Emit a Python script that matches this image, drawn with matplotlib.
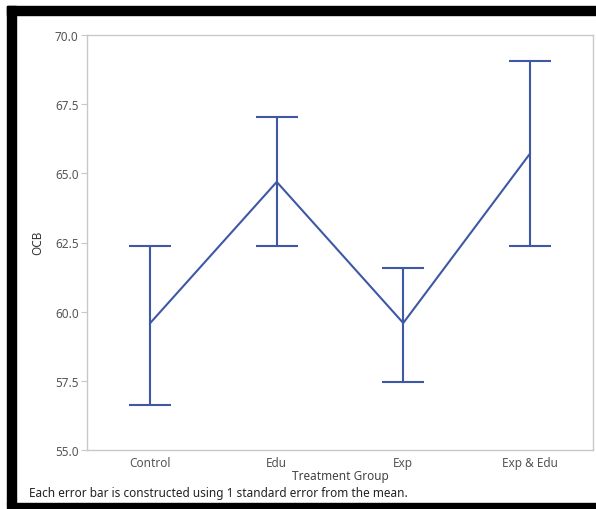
import matplotlib.pyplot as plt
from matplotlib.patches import Rectangle
import numpy as np

# group means with the ends of their +/- 1 SE bars
groups = ["Control", "Edu", "Exp", "Exp & Edu"]
means = [59.59, 64.69, 59.59, 65.70]
lower = [56.63, 62.37, 57.46, 62.37]
upper = [62.37, 67.04, 61.58, 69.06]

plt.rcParams["font.family"] = ["Noto Sans", "DejaVu Sans"]

W, H = 596, 510
fig = plt.figure(figsize=(W / 100, H / 100), dpi=100)

# black frame around the panel (left, top, bottom)
for x0, y0, w, h in [(7, 7, 9, 498), (7, 7, 589, 9), (7, 504, 589, 6)]:
    fig.patches.append(Rectangle((x0 / W, 1 - (y0 + h) / H), w / W, h / H,
                                 transform=fig.transFigure, color="black", zorder=5))

ax = fig.add_axes([87 / W, 1 - 451 / H, (593 - 87) / W, (451 - 36) / H])

x = np.arange(len(groups))
m = np.array(means)
yerr = [m - np.array(lower), np.array(upper) - m]
line_col = "#3f58a6"
ax.errorbar(x, m, yerr=yerr, color=line_col, lw=1.5, capsize=15, capthick=1.5,
            elinewidth=1.5)

ax.set_xlim(-0.5, 3.5)
ax.set_ylim(55, 70)
ax.set_yticks([55, 57.5, 60, 62.5, 65, 67.5, 70])
ax.set_yticklabels(["55.0", "57.5", "60.0", "62.5", "65.0", "67.5", "70.0"])
ax.set_xticks(x)
ax.set_xticklabels(groups)

for s in ax.spines.values():
    s.set_color("#c8c8c8")
    s.set_linewidth(1.0)
ax.tick_params(axis="y", length=4, color="#c8c8c8", labelsize=8.5,
               labelcolor="#555555", pad=2)
ax.tick_params(axis="x", length=0, labelsize=8.5, labelcolor="#555555", pad=4)

ax.set_xlabel("Treatment Group", fontsize=8.5, color="#444444", labelpad=0)
fig.text(38 / W, 1 - 243 / H, "OCB", rotation=90, ha="center", va="center",
         fontsize=8.5, color="#333333")

fig.text(29 / W, 1 - 494 / H,
         "Each error bar is constructed using 1 standard error from the mean.",
         ha="left", va="center", fontsize=8.5, color="#222222")

fig.savefig("out.png", dpi=100)
